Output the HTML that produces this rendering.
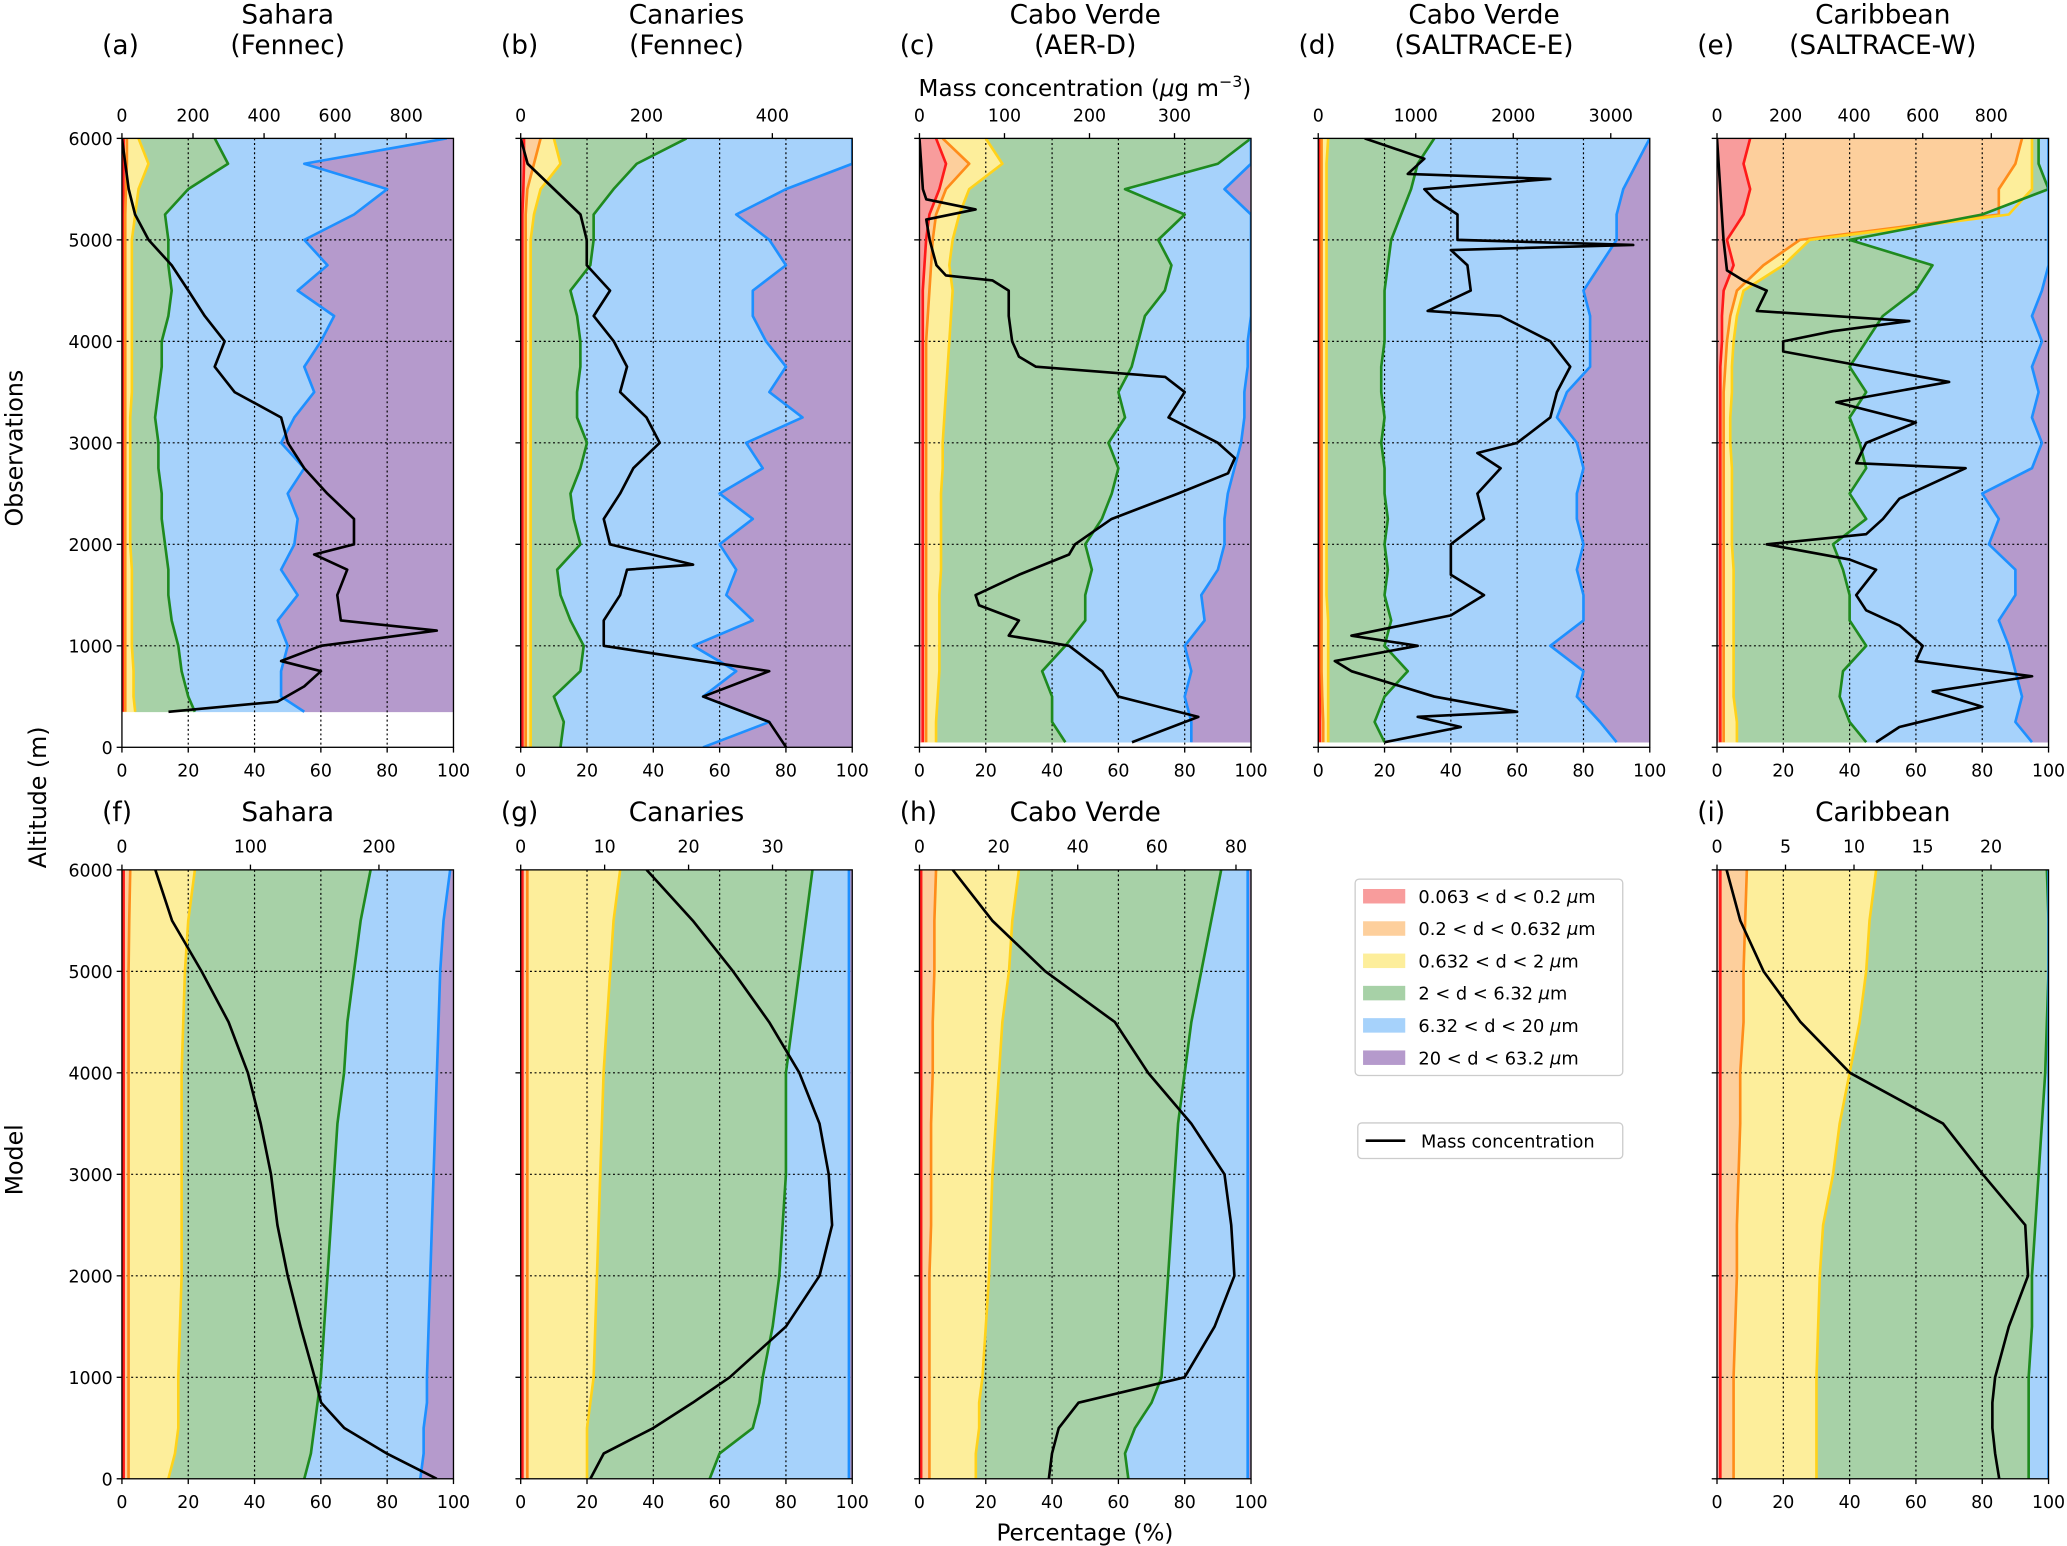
<!DOCTYPE html>
<html><head><meta charset="utf-8"><style>
html,body{margin:0;padding:0;background:#fff;}
svg{display:block;font-family:"DejaVu Sans","Liberation Sans",sans-serif;}
</style></head><body>
<svg id="fig" width="2067" height="1546" viewBox="0 0 1568 1173" preserveAspectRatio="none" xmlns="http://www.w3.org/2000/svg">
<g id="root"></g>
</svg>
<script>
// ---------- Observation data (altitude m, cumulative %) ----------
const aAlt=[350,500,750,1000,1250,1500,1750,2000,2250,2500,2750,3000,3250,3500,3750,4000,4250,4500,4750,5000,5250,5500,5750,6000];
const aRed=[0.3,0.3,0.3,0.3,0.3,0.3,0.3,0.3,0.3,0.3,0.3,0.3,0.3,0.3,0.3,0.3,0.3,0.3,0.3,0.3,0.3,0.4,0.5,0.5];
const aOrange=[1,1,1,1,1,1,1,1,1,1,1,1,1,1,1,1,1,1,1,1,1,1.2,1.5,1.5];
const aYellow=[4,3.5,3.5,3,3,3,3,2.5,2.5,2.5,2.5,2.5,2.5,3,3,3,3,3,3,3,4,5,8,5];
const aGreen=[22,20,18,17,15,14,14,13,12,12,11,11,10,11,12,12,14,15,14,14,13,20,32,28];
const aBlue=[55,48,48,50,47,53,48,52,53,50,55,48,52,58,55,60,64,53,62,55,70,80,55,98];
const aMassAlt=[350,450,600,750,850,1000,1150,1250,1500,1750,1900,2000,2250,2500,2750,3000,3250,3500,3750,4000,4250,4500,4750,5000,5250,5500,6000];
const aMass=[131,438,513,560,448,560,886,616,606,634,541,653,653,578,513,467,448,317,261,289,233,187,140,75,37,19,0];

const bAlt=[0,250,500,750,1000,1250,1500,1750,2000,2250,2500,2750,3000,3250,3500,3750,4000,4250,4500,4750,5000,5250,5500,5750,6000];
const bRed=[0.5,0.5,0.5,0.5,0.5,0.5,0.5,0.5,0.5,0.5,0.5,0.5,0.5,0.5,0.5,0.5,0.5,0.5,0.5,0.5,0.5,0.5,0.8,1,1];
const bOrange=[1.5,1.5,1.5,1.5,1.5,1.5,1.5,1.5,1.5,1.5,1.5,1.5,1.5,1.5,1.5,1.5,1.5,1.5,1.5,1.5,1.5,1.5,2,4,6];
const bYellow=[3,3,3,3,3,3,3,3,3,3,3,3,3,3,3,3,3,3,3,3,3,4,6,12,10];
const bGreen=[12,13,10,18,19,15,12,11,18,16,15,18,20,17,17,18,18,17,15,21,22,22,28,35,50];
const bBlue=[55,75,55,65,52,70,62,65,60,70,60,73,68,85,75,80,74,70,70,80,75,65,80,100,100];
const bMassAlt=[0,250,500,750,1000,1250,1500,1750,1800,2000,2250,2500,2750,3000,3250,3500,3750,4000,4250,4500,4750,5000,5250,5500,5750,6000];
const bMass=[422,395,290,395,132,132,158,169,274,142,132,158,179,221,200,158,169,148,116,142,105,105,95,53,11,0];

const cAlt=[50,250,500,750,1000,1250,1500,1750,2000,2250,2500,2750,3000,3250,3500,3750,4000,4250,4500,4750,5000,5250,5500,5750,6000];
const cRed=[1,1,1,1,1,1,1,1,1,1,1,1,1,1,1,1,1,1,1,1.5,2,3,6,8,5];
const cOrange=[2,2,2,2,2,2,2,2,2,2,2,2,2,2,2,2,2,2.5,3,3.5,4,5,8,15,7];
const cYellow=[5,5,5.5,6,6,6,6,6.5,6.5,6.5,6.5,7,7,7.5,8,8.5,9,9.5,10,9,10,12,15,25,20];
const cGreen=[44,40,40,37,44,50,50,52,50,55,58,60,57,62,60,64,66,68,74,76,72,80,62,90,100];
const cBlue=[82,82,80,82,80,86,85,90,92,92,93,95,97,98,98,99,99,100,100,100,100,100,92,100,100];
const cMassAlt=[50,300,500,750,1000,1100,1250,1400,1500,1700,1900,2000,2250,2500,2700,2850,3000,3250,3500,3650,3750,3850,4000,4250,4500,4600,4650,4750,5000,5200,5300,5400,5500,6000];
const cMass=[250,328,234,215,176,105,117,70,66,117,176,183,226,304,363,371,351,293,312,289,137,117,109,105,105,86,31,20,12,8,66,8,4,0];

const dAlt=[50,250,500,750,1000,1250,1500,1750,2000,2250,2500,2750,3000,3250,3500,3750,4000,4250,4500,4750,5000,5250,5500,5750,6000];
const dRed=[0.5,0.5,0.5,0.5,0.5,0.5,0.5,0.5,0.5,0.5,0.5,0.5,0.5,0.5,0.5,0.5,0.5,0.5,0.5,0.5,0.5,0.5,0.5,0.5,0.5];
const dOrange=[1.5,1.5,1.2,1,1,1,1,1,1,1,1,1,1,1,1,1,1,1,1,1,1,1,1,1,1];
const dYellow=[3,3,3,3,3,3,2.5,2.5,2.5,2.5,2.5,2.5,2.5,2.5,2.5,2.5,2.5,2.5,2.5,2.5,2.5,2.5,2.5,2.5,3];
const dGreen=[20,17,20,27,20,22,20,21,20,21,20,20,19,20,19,19,20,20,20,21,22,25,28,30,35];
const dBlue=[90,85,78,80,70,80,80,78,80,78,78,80,78,72,75,82,82,82,80,85,90,90,92,96,100];
const dMassAlt=[50,200,300,350,500,750,850,1000,1100,1300,1500,1700,2000,2250,2500,2750,2900,3000,3250,3500,3750,4000,4250,4300,4500,4750,4900,4950,5000,5250,5400,5500,5600,5650,5800,6000];
const dMass=[680,1462,1020,2040,1190,340,170,1020,340,1360,1700,1360,1360,1700,1632,1870,1632,2040,2380,2448,2584,2380,1870,1122,1564,1530,1360,3230,1428,1428,1190,1088,2380,918,1088,476];

const eAlt=[50,250,500,750,1000,1250,1500,1750,2000,2250,2500,2750,3000,3250,3500,3750,4000,4250,4500,4750,5000,5250,5500,5750,6000];
const eRed=[1,1,1,1,1,1,1,1,1,1,1,1,1,1,1,1,1.5,1.5,2,5,3,8,10,8,10];
const eOrange=[2,2,2,2,2,2,2,2,2,2,2,2,2,2,2,2.5,3,4,6,14,25,85,85,90,92];
const eYellow=[6,6,5,5,5,5,5,5,4.5,4.5,4.5,4.5,4,4,4.5,4.5,5,6,8,20,28,88,95,95,95];
const eGreen=[45,40,37,38,45,40,40,38,35,45,40,45,43,40,45,40,45,50,60,65,40,80,100,97,97];
const eBlue=[95,90,92,90,88,85,90,90,82,85,80,95,98,95,97,95,98,95,98,100,100,100,100,100,100];
const eMassAlt=[50,200,400,550,700,850,1000,1200,1350,1500,1750,1850,2000,2100,2250,2450,2750,2800,3000,3200,3400,3600,3900,4000,4100,4200,4300,4500,4600,4700,5000,6000];
const eMass=[464,532,774,629,919,580,600,532,435,406,464,387,145,435,484,532,725,406,435,580,348,677,193,193,338,561,116,145,77,29,19,0];

// ---------- Model data ----------
const mAlt=[0,250,500,750,1000,1500,2000,2500,3000,3500,4000,4500,5000,5500,6000];
const fRed=[0.5,0.5,0.5,0.5,0.5,0.5,0.5,0.5,0.5,0.5,0.5,0.5,0.5,0.5,0.5];
const fOrange=[2,2,2,2,2,2,2,2,2,2,2,2,2,2.2,2.5];
const fYellow=[14,16,17,17,17,17.5,18,18,18,18,18,18.5,19,20,22];
const fGreen=[55,57,58,59,60,61,62,63,64,65,67,68,70,72,75];
const fBlue=[90,91,91,92,92,92.5,93,93.5,94,94.5,95,95.5,96,97,99];
const fMass=[245,206,173,155,150,139,129,121,116,108,98,83,62,39,26];

const gRed=[0.5,0.5,0.5,0.5,0.5,0.5,0.5,0.5,0.5,0.5,0.5,0.5,0.5,0.5,0.5];
const gOrange=[2,2,2,2,2,2,2,2,2,2,2,2,2,2,2];
const gYellow=[20,20,20,21,22,22.5,23,23.5,24,24.5,25,26,27,28,30];
const gGreen=[57,60,70,72,73,76,78,79,80,80,80,82,84,86,88];
const gBlue=[99,99,99,99,99,99,99,99,99,99,99,99,99,99,99];
const gMass=[8.3,9.9,15.8,20.5,24.9,31.6,35.6,37.1,36.7,35.6,33.2,29.6,25.3,20.5,15.0];

const hRed=[0.5,0.5,0.5,0.5,0.5,0.5,0.5,0.5,0.5,0.5,0.5,0.5,0.5,0.5,0.5];
const hOrange=[3,3,3,3,3,3,3,3.5,3.5,3.5,4,4,4.5,4.5,5];
const hYellow=[17,17,18,18,19,20,21,21.5,22,23,24,25,27,28,30];
const hGreen=[63,62,65,70,73,74,75,76,77,78,80,82,85,88,91];
const hBlue=[99,99,99,99,99,99,99,99,99,99,99,99,99,99,99];
const hMass=[32.7,33.5,35.2,40.2,67.0,74.6,79.6,78.8,77.1,68.7,57.8,49.4,31.8,18.4,8.4];

const iRed=[1,1,1,1,1,1,1,1,1,1,1,1,1,1,1];
const iOrange=[5,5,5,5,5,5.5,6,6,6.5,7,7,8,8,8.5,9];
const iYellow=[30,30,30,30,30,30.5,31,32,35,37,40,43,45,46,48];
const iGreen=[94,94,94,94,94,95,95,96,97,98,99,99.5,100,100,99.5];
const iBlue=[100,100,100,100,100,100,100,100,100,100,100,100,100,100,100];
const iMass=[20.6,20.3,20.1,20.1,20.3,21.3,22.7,22.5,19.4,16.5,9.7,6.1,3.4,1.7,0.7];

const pctTicks=[0,20,40,60,80,100];
const altTicks=[0,1000,2000,3000,4000,5000,6000];

const NS="http://www.w3.org/2000/svg";
const root=document.getElementById('root');
function mk(tag,attrs,parent){const e=document.createElementNS(NS,tag);for(const k in attrs)e.setAttribute(k,attrs[k]);(parent||root).appendChild(e);return e;}

const FILL=['#f89c9c','#fdcf9c','#fdee9b','#a7d1a7','#a6d2fb','#b59acc'];
const LINE=['#ff1a1a','#ff8c1a','#ffd21a','#1f8a1f','#1e90ff'];
const NAMES=['red','orange','yellow','green','blue','purple'];
const TICKFS=13.2, TITLEFS=20;

const panels=[
 {id:'a',x0:92.5,yt:105,yb:567,alt:aAlt,b:[aRed,aOrange,aYellow,aGreen,aBlue],mAlt:aMassAlt,mass:aMass,mMax:933,mTicks:[0,200,400,600,800],left:true,t1:'Sahara',t2:'(Fennec)'},
 {id:'b',x0:395,yt:105,yb:567,alt:bAlt,b:[bRed,bOrange,bYellow,bGreen,bBlue],mAlt:bMassAlt,mass:bMass,mMax:527,mTicks:[0,200,400],t1:'Canaries',t2:'(Fennec)'},
 {id:'c',x0:697.5,yt:105,yb:567,alt:cAlt,b:[cRed,cOrange,cYellow,cGreen,cBlue],mAlt:cMassAlt,mass:cMass,mMax:390,mTicks:[0,100,200,300],t1:'Cabo Verde',t2:'(AER-D)'},
 {id:'d',x0:1000,yt:105,yb:567,alt:dAlt,b:[dRed,dOrange,dYellow,dGreen,dBlue],mAlt:dMassAlt,mass:dMass,mMax:3400,mTicks:[0,1000,2000,3000],t1:'Cabo Verde',t2:'(SALTRACE-E)'},
 {id:'e',x0:1302.5,yt:105,yb:567,alt:eAlt,b:[eRed,eOrange,eYellow,eGreen,eBlue],mAlt:eMassAlt,mass:eMass,mMax:967,mTicks:[0,200,400,600,800],t1:'Caribbean',t2:'(SALTRACE-W)'},
 {id:'f',x0:92.5,yt:660,yb:1122,alt:mAlt,b:[fRed,fOrange,fYellow,fGreen,fBlue],mAlt:mAlt,mass:fMass,mMax:258,mTicks:[0,100,200],left:true,t1:'Sahara'},
 {id:'g',x0:395,yt:660,yb:1122,alt:mAlt,b:[gRed,gOrange,gYellow,gGreen,gBlue],mAlt:mAlt,mass:gMass,mMax:39.5,mTicks:[0,10,20,30],t1:'Canaries'},
 {id:'h',x0:697.5,yt:660,yb:1122,alt:mAlt,b:[hRed,hOrange,hYellow,hGreen,hBlue],mAlt:mAlt,mass:hMass,mMax:83.8,mTicks:[0,20,40,60,80],t1:'Cabo Verde'},
 {id:'i',x0:1302.5,yt:660,yb:1122,alt:mAlt,b:[iRed,iOrange,iYellow,iGreen,iBlue],mAlt:mAlt,mass:iMass,mMax:24.2,mTicks:[0,5,10,15,20],t1:'Caribbean'}
];
const W=251.5;

panels.forEach(p=>{
  const g=mk('g',{});
  
  
  const X=v=>p.x0+v/100*W;
  const Y=a=>p.yb-a/6000*(p.yb-p.yt);
  const MX=m=>p.x0+m/p.mMax*W;
  const cid='clip-'+p.id;
  const cp=mk('clipPath',{id:cid},g);mk('rect',{x:p.x0,y:p.yt,width:W,height:p.yb-p.yt},cp);
  const body=mk('g',{'clip-path':'url(#'+cid+')'},g);
  const bounds=[p.alt.map(()=>0)].concat(p.b).concat([p.alt.map(()=>100)]);
  for(let k=0;k<6;k++){
    const lo=bounds[k],hi=bounds[k+1];
    let pts=[];
    for(let j=0;j<p.alt.length;j++)pts.push(X(lo[j])+','+Y(p.alt[j]));
    for(let j=p.alt.length-1;j>=0;j--)pts.push(X(hi[j])+','+Y(p.alt[j]));
    const poly=mk('polygon',{points:pts.join(' '),fill:FILL[k],stroke:FILL[k],'stroke-width':0.5},body);
    
    
  }
  [20,40,60,80].forEach(v=>mk('line',{x1:X(v),x2:X(v),y1:p.yt,y2:p.yb,stroke:'#000','stroke-width':0.9,'stroke-dasharray':'1.5,2'},body));
  [1000,2000,3000,4000,5000].forEach(a=>mk('line',{x1:p.x0,x2:p.x0+W,y1:Y(a),y2:Y(a),stroke:'#000','stroke-width':0.9,'stroke-dasharray':'1.5,2'},body));
  for(let k=0;k<5;k++){
    const pts=p.alt.map((a,j)=>X(p.b[k][j])+','+Y(a)).join(' ');
    const l=mk('polyline',{points:pts,fill:'none',stroke:LINE[k],'stroke-width':2,'stroke-linejoin':'round'},body);
    
    
  }
  const mpts=p.mAlt.map((a,j)=>MX(p.mass[j])+','+Y(a)).join(' ');
  const ml=mk('polyline',{points:mpts,fill:'none',stroke:'#000','stroke-width':2,'stroke-linejoin':'round'},body);
  
  
  mk('rect',{x:p.x0,y:p.yt,width:W,height:p.yb-p.yt,fill:'none',stroke:'#000','stroke-width':1},g);
  pctTicks.forEach(v=>{
    mk('line',{x1:X(v),x2:X(v),y1:p.yb,y2:p.yb+4,stroke:'#000','stroke-width':1},g);
    const t=mk('text',{x:X(v),y:p.yb+22,'font-size':TICKFS,'text-anchor':'middle'},g);t.textContent=v;
    
    
  });
  altTicks.forEach(a=>{
    mk('line',{x1:p.x0-4,x2:p.x0,y1:Y(a),y2:Y(a),stroke:'#000','stroke-width':1},g);
    if(p.left){const t=mk('text',{x:p.x0-7,y:Y(a)+5,'font-size':TICKFS,'text-anchor':'end'},g);t.textContent=a;
      
      }
  });
  p.mTicks.forEach(m=>{
    mk('line',{x1:MX(m),x2:MX(m),y1:p.yt-4,y2:p.yt,stroke:'#000','stroke-width':1},g);
    const t=mk('text',{x:MX(m),y:p.yt-13,'font-size':TICKFS,'text-anchor':'middle'},g);t.textContent=m;
    
    
  });
  const cx=p.x0+W/2;
  if(p.t2){
    const t1=mk('text',{x:cx,y:18,'font-size':TITLEFS,'text-anchor':'middle'},g);t1.textContent=p.t1;
    
    
    const t2=mk('text',{x:cx,y:41,'font-size':TITLEFS,'text-anchor':'middle'},g);t2.textContent=p.t2;
    
    
    const lb=mk('text',{x:p.x0-15,y:41,'font-size':TITLEFS},g);lb.textContent='('+p.id+')';
    
    
  } else {
    const t1=mk('text',{x:cx,y:623,'font-size':TITLEFS,'text-anchor':'middle'},g);t1.textContent=p.t1;
    
    
    const lb=mk('text',{x:p.x0-15,y:623,'font-size':TITLEFS},g);lb.textContent='('+p.id+')';
    
    
  }
});
</script>
<script>
(function(){
const NS="http://www.w3.org/2000/svg";
const root=document.getElementById('root');
function mk(tag,attrs,parent){const e=document.createElementNS(NS,tag);for(const k in attrs)e.setAttribute(k,attrs[k]);(parent||root).appendChild(e);return e;}
function txt(s,attrs,name){const t=mk('text',attrs);t.textContent=s;
  
  return t;}
const mc=mk('text',{x:823,y:73,'font-size':17.5,'text-anchor':'middle'});


mc.innerHTML='Mass concentration (<tspan font-style="italic">μ</tspan>g m<tspan dy="-7" font-size="12">−3</tspan><tspan dy="7">)</tspan>';
txt('Percentage (%)',{x:823,y:1169,'font-size':17.5,'text-anchor':'middle'},'x-axis-title');
txt('Observations',{x:0,y:0,'font-size':18,'text-anchor':'middle',transform:'translate(17,340) rotate(-90)'},'observations-row-label');
txt('Altitude (m)',{x:0,y:0,'font-size':18,'text-anchor':'middle',transform:'translate(35,605) rotate(-90)'},'y-axis-title');
txt('Model',{x:0,y:0,'font-size':18,'text-anchor':'middle',transform:'translate(17,880) rotate(-90)'},'model-row-label');
const FILL=['#f89c9c','#fdcf9c','#fdee9b','#a7d1a7','#a6d2fb','#b59acc'];
const LAB=['0.063 < d < 0.2 ','0.2 < d < 0.632 ','0.632 < d < 2 ','2 < d < 6.32 ','6.32 < d < 20 ','20 < d < 63.2 '];
const lg=mk('g',{});


mk('rect',{x:1028,y:667,width:203,height:149,rx:3,fill:'#fff',stroke:'#ccc','stroke-width':1},lg);
LAB.forEach((s,k)=>{
  const y=680+k*24.5;
  const r=mk('rect',{x:1034,y:y-5.5,width:32,height:11,fill:FILL[k]},lg);
  
  
  const t=mk('text',{x:1076,y:y+5,'font-size':13.5},lg);
  
  
  t.innerHTML=s.replace(/</g,'&lt;')+'<tspan font-style="italic">μ</tspan>m';
});
const lg2=mk('g',{});


mk('rect',{x:1030,y:852,width:201,height:27,rx:3,fill:'#fff',stroke:'#ccc','stroke-width':1},lg2);
mk('line',{x1:1036,x2:1066,y1:865.5,y2:865.5,stroke:'#000','stroke-width':2},lg2);
const t2=mk('text',{x:1078,y:870.5,'font-size':13.5},lg2);t2.textContent='Mass concentration';


})();
</script>
</body></html>
